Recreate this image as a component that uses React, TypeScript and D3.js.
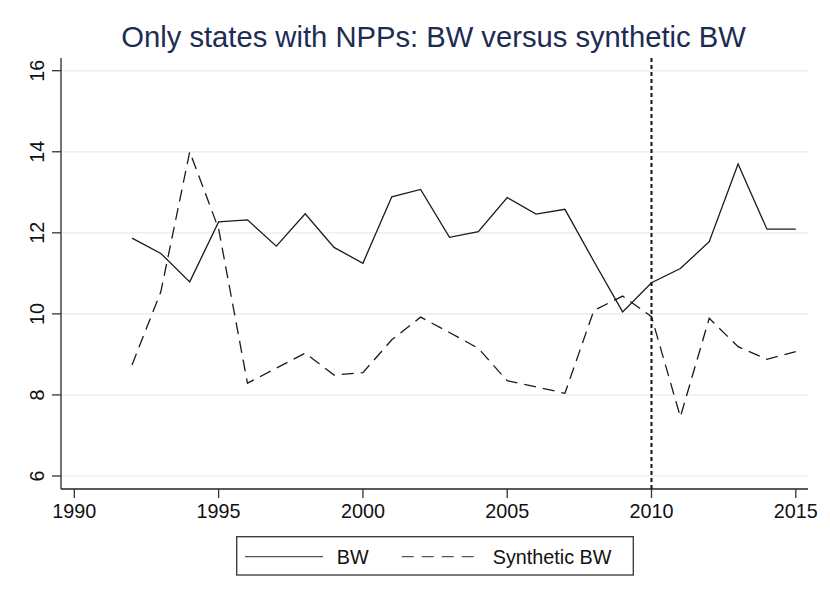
import React from 'react';
import * as d3 from 'd3';

const years = [1992, 1993, 1994, 1995, 1996, 1997, 1998, 1999, 2000, 2001, 2002, 2003,
  2004, 2005, 2006, 2007, 2008, 2009, 2010, 2011, 2012, 2013, 2014, 2015];
const bw = [11.87, 11.49, 10.79, 12.27, 12.32, 11.67, 12.47, 11.64, 11.25, 12.89, 13.07, 11.89,
  12.03, 12.87, 12.46, 12.58, 11.3, 10.05, 10.77, 11.12, 11.78, 13.7, 12.09, 12.09];
const synthBw = [8.74, 10.55, 14.0, 12.1, 8.29, 8.66, 9.03, 8.49, 8.55, 9.36, 9.92, 9.54,
  9.15, 8.35, 8.2, 8.04, 10.08, 10.44, 9.93, 7.46, 9.89, 9.19, 8.88, 9.07];
const xTicks = [1990, 1995, 2000, 2005, 2010, 2015];
const yTicks = [6, 8, 10, 12, 14, 16];
const treatYear = 2010;

const W = 830;
const H = 604;
const font = '"Liberation Sans", Arial, Helvetica, sans-serif';

export default function App() {
  const x = d3.scaleLinear().domain([1990, 2015]).range([74.3, 795.8]);
  const y = d3.scaleLinear().domain([6, 16]).range([476, 70.7]);
  const axisLeft = 61;
  const axisBottom = 489;
  const plotRight = 808;
  const plotTop = 58;

  const line = d3.line<number>()
    .x((_, i) => x(years[i]))
    .y(d => y(d));

  return (
    <svg width={W} height={H} style={{ position: 'absolute', left: 0, top: 0, display: 'block', background: '#fff' }}
      fontFamily={font}>
      <rect x={0} y={0} width={W} height={H} fill="#fff" />
      <text x={433.5} y={47.3} textAnchor="middle" fontSize={29.2} fill="#1c2c54">
        Only states with NPPs: BW versus synthetic BW
      </text>

      {/* gridlines */}
      {yTicks.map(t => (
        <line key={t} x1={axisLeft} x2={plotRight} y1={y(t)} y2={y(t)} stroke="#eaf0f3" strokeWidth={1.6} />
      ))}

      {/* series */}
      <path d={line(bw) || ''} fill="none" stroke="#1a1a1a" strokeWidth={1.3} strokeLinejoin="miter" />
      <path d={line(synthBw) || ''} fill="none" stroke="#1a1a1a" strokeWidth={1.3} strokeDasharray="12,7" />

      {/* treatment line */}
      <line x1={x(treatYear)} x2={x(treatYear)} y1={plotTop} y2={axisBottom} stroke="#111" strokeWidth={2} strokeDasharray="4,3" />

      {/* y axis */}
      <line x1={axisLeft} x2={axisLeft} y1={plotTop} y2={axisBottom} stroke="#444" strokeWidth={1.5} />
      {yTicks.map(t => (
        <g key={t}>
          <line x1={axisLeft - 9} x2={axisLeft} y1={y(t)} y2={y(t)} stroke="#333" strokeWidth={1.3} />
          <text transform={`translate(${44},${y(t)}) rotate(-90)`} textAnchor="middle" fontSize={19.8} fill="#111">
            {t}
          </text>
        </g>
      ))}

      {/* x axis */}
      <line x1={axisLeft} x2={plotRight} y1={axisBottom} y2={axisBottom} stroke="#222" strokeWidth={1.5} />
      {xTicks.map(t => (
        <g key={t}>
          <line x1={x(t)} x2={x(t)} y1={axisBottom} y2={axisBottom + 9} stroke="#333" strokeWidth={1.3} />
          <text x={x(t)} y={518} textAnchor="middle" fontSize={19.8} fill="#111">{t}</text>
        </g>
      ))}

      {/* legend */}
      <rect x={236.7} y={536.7} width={396.6} height={38.3} fill="#fff" stroke="#333" strokeWidth={1.3} />
      <line x1={245} x2={323} y1={556.7} y2={556.7} stroke="#555" strokeWidth={1.3} />
      <text x={336.7} y={563.7} fontSize={19.8} fill="#111">BW</text>
      <line x1={401.7} x2={480} y1={556.7} y2={556.7} stroke="#555" strokeWidth={1.3} strokeDasharray="12,8" />
      <text x={492.7} y={563.7} fontSize={19.8} fill="#111">Synthetic BW</text>
    </svg>
  );
}
